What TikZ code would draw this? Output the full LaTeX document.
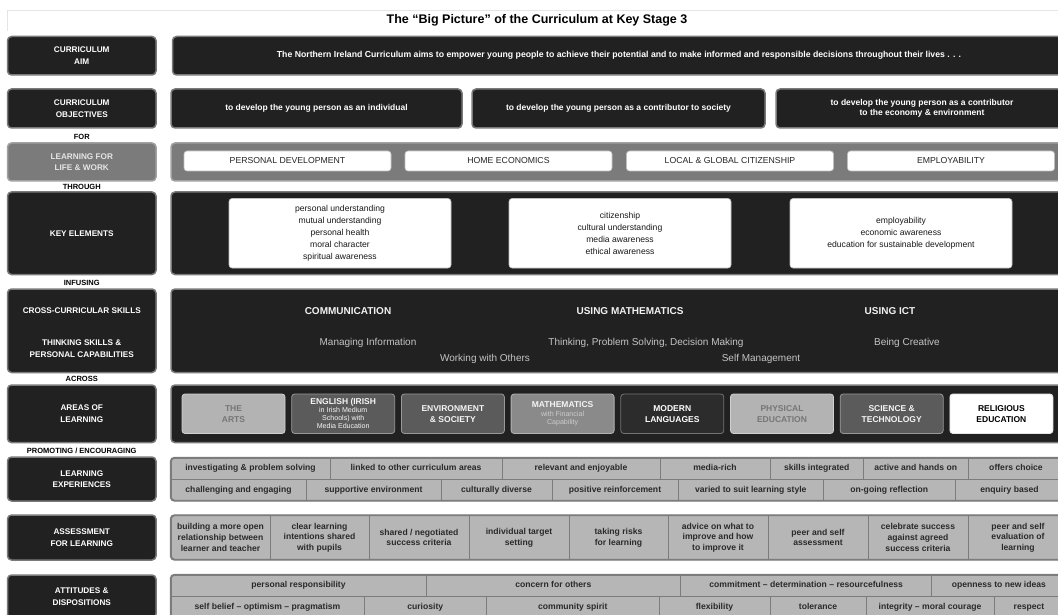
\documentclass[tikz,border=0pt]{standalone}
\usepackage{fontspec}
\setmainfont{Liberation Sans}
\definecolor{boxdark}{HTML}{212121}
\definecolor{boxedge}{HTML}{7A7A7A}
\definecolor{lifegray}{HTML}{7B7B7B}
\definecolor{lifeedge}{HTML}{A2A2A2}
\definecolor{cellgray}{HTML}{B6B6B6}
\definecolor{celledge}{HTML}{7C7C7C}
\definecolor{celltext}{HTML}{2A2A2A}
\definecolor{softtext}{HTML}{C4C4C4}
\definecolor{paletext}{HTML}{767676}
\definecolor{areapale}{HTML}{B3B3B3}
\definecolor{areamid}{HTML}{8A8A8A}
\definecolor{areadeep}{HTML}{5B5B5B}
\definecolor{areadark}{HTML}{2C2C2C}
\newcommand{\smallline}{\fontsize{7.1}{8}\selectfont\mdseries}
\begin{document}
\begin{tikzpicture}[x=1pt,y=-1pt,inner sep=0,
	dark/.style={draw=boxedge,fill=boxdark,line width=1.5pt,rounded corners=4pt,text=white,align=center,font=\fontsize{8.5}{10.5}\selectfont\bfseries},
	side/.style={dark,minimum width=148.5pt,font=\fontsize{8.2}{11.5}\selectfont\bfseries},
	sidetext/.style={text=white,align=center,font=\fontsize{8.2}{11.5}\selectfont\bfseries},
	link/.style={font=\fontsize{7.5}{9}\selectfont\bfseries},
	lifeside/.style={side,fill=lifegray,draw=lifeedge,text=black!10},
	lifepanel/.style={fill=lifegray,draw=lifeedge,line width=1.5pt,rounded corners=4pt},
	lifebox/.style={fill=white,draw=black!25,line width=0.6pt,rounded corners=3pt,minimum width=207pt,minimum height=20pt,text=black!85,font=\fontsize{8.7}{10}\selectfont},
	elembox/.style={fill=white,draw=black!25,line width=0.6pt,rounded corners=3pt,minimum width=222pt,minimum height=69.5pt,align=center,text=black!90,font=\fontsize{8.6}{12.2}\selectfont},
	skill/.style={text=black!5,text height=7.3pt,text depth=0pt,font=\fontsize{10}{12}\selectfont\bfseries},
	capab/.style={text=softtext,text height=7.3pt,text depth=2.2pt,font=\fontsize{10}{12}\selectfont},
	areabox/.style={rounded corners=3pt,line width=0.8pt,minimum width=103pt,minimum height=39.5pt,align=center,font=\fontsize{8.5}{11.2}\selectfont\bfseries},
	palearea/.style={areabox,fill=areapale,draw=black!18,text=paletext},
	midarea/.style={areabox,fill=areamid,draw=black!30,text=black!4},
	deeparea/.style={areabox,fill=areadeep,draw=black!40,text=black!4},
	darkarea/.style={areabox,fill=areadark,draw=black!55,text=white},
	whitearea/.style={areabox,fill=white,draw=black!10,text=black},
	grid/.style={fill=cellgray,draw=celledge,line width=1.2pt,rounded corners=4pt},
	gridedge/.style={draw=celledge,line width=1.2pt,rounded corners=4pt},
	cell/.style={draw=celledge,line width=0.8pt,align=center,text=celltext,font=\fontsize{8.6}{10.6}\selectfont\bfseries},
	linecell/.style={cell,text height=6.3pt,text depth=1.9pt}]
	\useasboundingbox (0,0) rectangle (1058,615);
	\clip (0,0) rectangle (1058,615);
	\fill[white] (0,0) rectangle (1058,615);
	% title
	\draw[black!10,line width=0.6pt] (7,31) -- (7,10) -- (1064,10);
	\node[font=\fontsize{12.5}{15}\selectfont\bfseries] (title) at (537,20) {The “Big Picture” of the Curriculum at Key Stage 3};
	% aim
	\node[side,minimum height=38.5pt] (aimL) at (81.75,55.75) {CURRICULUM\\AIM};
	\node[dark,minimum width=893pt,minimum height=38.5pt,font=\fontsize{8.7}{10.5}\selectfont\bfseries] (aimR) at (619,55.75) {The Northern Ireland Curriculum aims to empower young people to achieve their potential and to make informed and responsible decisions throughout their lives . . .};
	% objectives
	\node[side,minimum height=39pt] (objL) at (81.75,108.5) {CURRICULUM\\OBJECTIVES};
	\node[dark,minimum width=291pt,minimum height=39pt] (obj1) at (316.5,108.5) {to develop the young person as an individual};
	\node[dark,minimum width=293pt,minimum height=39pt] (obj2) at (618.5,108.5) {to develop the young person as a contributor to society};
	\node[dark,minimum width=292pt,minimum height=39pt] (obj3) at (922,108.5) {to develop the young person as a contributor\\to the economy \& environment};
	\node[link] (for) at (81.75,137) {FOR};
	% learning for life and work
	\node[lifeside,minimum height=38pt] (lifeL) at (81.75,162) {LEARNING FOR\\LIFE \& WORK};
	\node[lifepanel,minimum width=893pt,minimum height=38pt] (lifeR) at (617.5,162) {};
	\node[lifebox] (pd) at (287.5,161) {PERSONAL DEVELOPMENT};
	\node[lifebox] (he) at (508.5,161) {HOME ECONOMICS};
	\node[lifebox] (lgc) at (730,161) {LOCAL \& GLOBAL CITIZENSHIP};
	\node[lifebox] (emp) at (951,161) {EMPLOYABILITY};
	\node[link] (through) at (81.75,186.5) {THROUGH};
	% key elements
	\node[side,minimum height=82.5pt] (keyL) at (81.75,233.25) {KEY ELEMENTS};
	\node[dark,minimum width=893pt,minimum height=82.5pt] (keyR) at (617.5,233.25) {};
	\node[elembox] (ke1) at (340,233.25) {personal understanding\\mutual understanding\\personal health\\moral character\\spiritual awareness};
	\node[elembox] (ke2) at (620,233.25) {citizenship\\cultural understanding\\media awareness\\ethical awareness};
	\node[elembox] (ke3) at (901,233.25) {employability\\economic awareness\\education for sustainable development};
	\node[link] (infusing) at (81.75,283) {INFUSING};
	% cross-curricular skills
	\node[side,minimum height=83.5pt] (ccsL) at (81.75,330.75) {};
	\node[sidetext] (ccsA) at (81.75,311) {CROSS-CURRICULAR SKILLS};
	\node[sidetext] (ccsB) at (81.75,348.5) {THINKING SKILLS \&\\PERSONAL CAPABILITIES};
	\node[dark,minimum width=893pt,minimum height=83.5pt] (ccsR) at (617.5,330.75) {};
	\node[skill] (comm) at (348,311) {COMMUNICATION};
	\node[skill] (maths) at (630,311) {USING MATHEMATICS};
	\node[skill] (ict) at (890,311) {USING ICT};
	\node[capab] (manage) at (368,343) {Managing Information};
	\node[capab] (think) at (646,343) {Thinking, Problem Solving, Decision Making};
	\node[capab] (create) at (907,343) {Being Creative};
	\node[capab] (others) at (485,359) {Working with Others};
	\node[capab] (self) at (761,359) {Self Management};
	\node[link] (across) at (81.75,378.5) {ACROSS};
	% areas of learning
	\node[side,minimum height=57.6pt] (areaL) at (81.75,413.8) {AREAS OF\\LEARNING};
	\node[dark,minimum width=893pt,minimum height=57.6pt] (areaR) at (617.5,413.8) {};
	\node[palearea] (arts) at (233.5,413.75) {THE\\ARTS};
	\node[deeparea] (eng) at (343.2,413.75) {ENGLISH (IRISH\\[-3pt]\smallline in Irish Medium\\[-3.2pt]\smallline Schools) with\\[-3.2pt]\smallline Media Education};
	\node[deeparea] (env) at (452.9,413.75) {ENVIRONMENT\\\& SOCIETY};
	\node[midarea] (math) at (562.6,413.75) {MATHEMATICS\\[-3pt]\smallline\color{black!20} with Financial\\[-3.2pt]\smallline\color{black!20} Capability};
	\node[darkarea] (lang) at (672.3,413.75) {MODERN\\LANGUAGES};
	\node[palearea] (pe) at (782,413.75) {PHYSICAL\\EDUCATION};
	\node[deeparea] (sci) at (891.7,413.75) {SCIENCE \&\\TECHNOLOGY};
	\node[whitearea] (re) at (1001.4,413.75) {RELIGIOUS\\EDUCATION};
	\node[link] (promote) at (81.75,451) {PROMOTING / ENCOURAGING};
	% learning experiences
	\node[side,minimum height=44pt] (expL) at (81.75,479) {LEARNING\\EXPERIENCES};
	\node[grid,minimum width=893pt,minimum height=42.5pt] (expR) at (617.5,479.25) {};
	\begin{scope}
		\clip[rounded corners=4pt] (expR.north west) rectangle (expR.south east);
		\node[linecell,minimum width=159pt,minimum height=21.25pt] (le1) at (250.5,468.625) {investigating \& problem solving};
		\node[linecell,minimum width=172pt,minimum height=21.25pt] (le2) at (416,468.625) {linked to other curriculum areas};
		\node[linecell,minimum width=158pt,minimum height=21.25pt] (le3) at (581,468.625) {relevant and enjoyable};
		\node[linecell,minimum width=110pt,minimum height=21.25pt] (le4) at (715,468.625) {media-rich};
		\node[linecell,minimum width=93.5pt,minimum height=21.25pt] (le5) at (816.75,468.625) {skills integrated};
		\node[linecell,minimum width=104.5pt,minimum height=21.25pt] (le6) at (915.75,468.625) {active and hands on};
		\node[linecell,minimum width=96pt,minimum height=21.25pt] (le7) at (1016,468.625) {offers choice};
		\node[linecell,minimum width=135pt,minimum height=21.25pt] (le8) at (238.5,489.875) {challenging and engaging};
		\node[linecell,minimum width=135pt,minimum height=21.25pt] (le9) at (373.5,489.875) {supportive environment};
		\node[linecell,minimum width=111pt,minimum height=21.25pt] (le10) at (496.5,489.875) {culturally diverse};
		\node[linecell,minimum width=126pt,minimum height=21.25pt] (le11) at (615,489.875) {positive reinforcement};
		\node[linecell,minimum width=145.6pt,minimum height=21.25pt] (le12) at (750.8,489.875) {varied to suit learning style};
		\node[linecell,minimum width=131.4pt,minimum height=21.25pt] (le13) at (889.3,489.875) {on-going reflection};
		\node[linecell,minimum width=109pt,minimum height=21.25pt] (le14) at (1009.5,489.875) {enquiry based};
	\end{scope}
	\draw[gridedge] (expR.north west) rectangle (expR.south east);
	% assessment for learning
	\node[side,minimum height=45pt] (aflL) at (81.75,537.5) {ASSESSMENT\\FOR LEARNING};
	\node[grid,minimum width=893pt,minimum height=44pt] (aflR) at (617.5,537.5) {};
	\begin{scope}
		\clip[rounded corners=4pt] (aflR.north west) rectangle (aflR.south east);
		\node[cell,minimum width=99pt,minimum height=44pt] (afl1) at (220.5,537.5) {building a more open\\relationship between\\learner and teacher};
		\node[cell,minimum width=99pt,minimum height=44pt] (afl2) at (319.5,537.5) {clear learning\\intentions shared\\with pupils};
		\node[cell,minimum width=100pt,minimum height=44pt] (afl3) at (419,537.5) {shared / negotiated\\success criteria};
		\node[cell,minimum width=100pt,minimum height=44pt] (afl4) at (519,537.5) {individual target\\setting};
		\node[cell,minimum width=99pt,minimum height=44pt] (afl5) at (618.5,537.5) {taking risks\\for learning};
		\node[cell,minimum width=100pt,minimum height=44pt] (afl6) at (718,537.5) {advice on what to\\improve and how\\to improve it};
		\node[cell,minimum width=100pt,minimum height=44pt] (afl7) at (818,537.5) {peer and self\\assessment};
		\node[cell,minimum width=100pt,minimum height=44pt] (afl8) at (918,537.5) {celebrate success\\against agreed\\success criteria};
		\node[cell,minimum width=100pt,minimum height=44pt] (afl9) at (1018,537.5) {peer and self\\evaluation of\\learning};
	\end{scope}
	\draw[gridedge] (aflR.north west) rectangle (aflR.south east);
	% attitudes and dispositions
	\node[side,minimum height=43pt] (attL) at (81.75,596.5) {ATTITUDES \&\\DISPOSITIONS};
	\node[grid,minimum width=893pt,minimum height=43pt] (attR) at (617.5,596.5) {};
	\begin{scope}
		\clip[rounded corners=4pt] (attR.north west) rectangle (attR.south east);
		\node[linecell,minimum width=255pt,minimum height=21.5pt] (att1) at (298.5,585.75) {personal responsibility};
		\node[linecell,minimum width=254.7pt,minimum height=21.5pt] (att2) at (553.35,585.75) {concern for others};
		\node[linecell,minimum width=251pt,minimum height=21.5pt] (att3) at (806.2,585.75) {commitment -- determination -- resourcefulness};
		\node[linecell,minimum width=134.3pt,minimum height=21.5pt] (att4) at (998.85,585.75) {openness to new ideas};
		\node[linecell,minimum width=193pt,minimum height=21.5pt] (att5) at (267.5,607.25) {self belief -- optimism -- pragmatism};
		\node[linecell,minimum width=122.5pt,minimum height=21.5pt] (att6) at (425.25,607.25) {curiosity};
		\node[linecell,minimum width=172.5pt,minimum height=21.5pt] (att7) at (572.75,607.25) {community spirit};
		\node[linecell,minimum width=111pt,minimum height=21.5pt] (att8) at (714.5,607.25) {flexibility};
		\node[linecell,minimum width=96pt,minimum height=21.5pt] (att9) at (818,607.25) {tolerance};
		\node[linecell,minimum width=128pt,minimum height=21.5pt] (att10) at (930,607.25) {integrity -- moral courage};
		\node[linecell,minimum width=70pt,minimum height=21.5pt] (att11) at (1029,607.25) {respect};
	\end{scope}
	\draw[gridedge] (attR.north west) rectangle (attR.south east);
\end{tikzpicture}
\end{document}
